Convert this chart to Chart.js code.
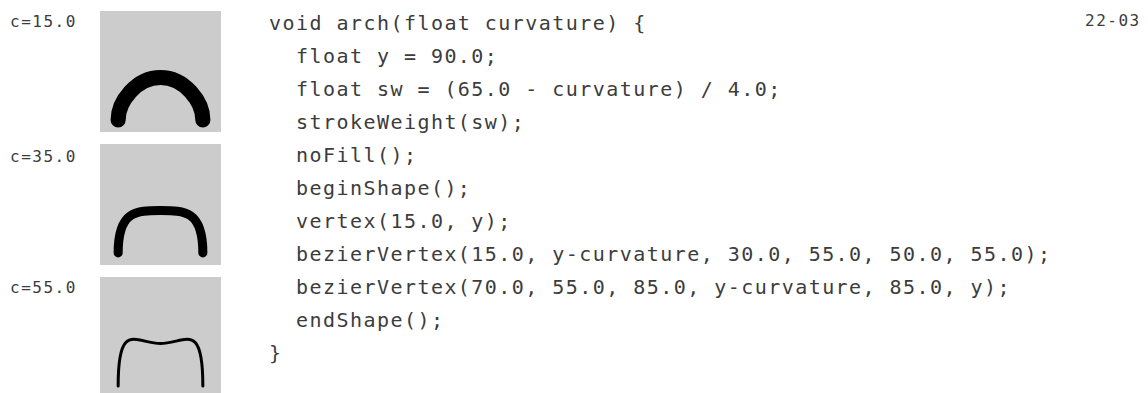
<!DOCTYPE html>
<html lang="en">
    <head>
        <meta charset="UTF-8" />
        <title>arch(curvature)</title>
        <script src="https://cdn.jsdelivr.net/npm/chart.js"></script>
        <style>
            html, body { margin: 0; padding: 0; background: #fff; overflow: hidden; }
            body { width: 1148px; height: 393px; position: relative; }
            canvas.arch { position: absolute; left: 100px; background: #cccccc; }
            .label, .page {
                position: absolute;
                font-family: "DejaVu Sans Mono", monospace;
                font-size: 16px;
                line-height: 16px;
                letter-spacing: 1.5px;
                color: #3c3c3c;
                white-space: pre;
            }
            .label { left: 10px; }
            .page { left: 1085px; top: 13px; }
            pre.code {
                position: absolute;
                left: 269px;
                top: 6.5px;
                margin: 0;
                font-family: "DejaVu Sans Mono", monospace;
                font-size: 20px;
                line-height: 33.1px;
                letter-spacing: 1.45px;
                color: #3c3c3c;
            }
        </style>
    </head>
    <body>
        <script>
            // Curvature of each sketch and its caption
            const curvatures = [15.0, 35.0, 55.0];
            const captions = ["c=15.0", "c=35.0", "c=55.0"];

            // Control points (sketch units, 100 x 100) read from the code:
            // vertex + two bezierVertex calls
            const arch15 = [[15, 90], [15, 75], [30, 55], [50, 55], [70, 55], [85, 75], [85, 90]];
            const arch35 = [[15, 90], [15, 55], [30, 55], [50, 55], [70, 55], [85, 55], [85, 90]];
            const arch55 = [[15, 90], [15, 35], [30, 55], [50, 55], [70, 55], [85, 35], [85, 90]];
            const archPoints = [arch15, arch35, arch55];

            // Stroke weights, (65 - c) / 4
            const strokeWeights = [12.5, 7.5, 2.5];

            const boxTops = [11, 144, 277];
            const captionTops = [13.5, 148.5, 279.5];

            const codeLines = [
                "void arch(float curvature) {",
                "  float y = 90.0;",
                "  float sw = (65.0 - curvature) / 4.0;",
                "  strokeWeight(sw);",
                "  noFill();",
                "  beginShape();",
                "  vertex(15.0, y);",
                "  bezierVertex(15.0, y-curvature, 30.0, 55.0, 50.0, 55.0);",
                "  bezierVertex(70.0, 55.0, 85.0, y-curvature, 85.0, y);",
                "  endShape();",
                "}",
            ];

            // draws the dataset points as a vertex + bezierVertex chain
            const bezierPlugin = {
                id: "bezierShape",
                afterDatasetsDraw(chart) {
                    const x = chart.scales.x;
                    const y = chart.scales.y;
                    const ds = chart.data.datasets[0];
                    const pts = ds.data.map((p) => [x.getPixelForValue(p.x), y.getPixelForValue(p.y)]);
                    const w = Math.abs(x.getPixelForValue(ds.weight) - x.getPixelForValue(0));
                    const ctx = chart.ctx;
                    ctx.save();
                    ctx.beginPath();
                    ctx.moveTo(pts[0][0], pts[0][1]);
                    for (let i = 1; i + 2 < pts.length; i += 3) {
                        ctx.bezierCurveTo(pts[i][0], pts[i][1], pts[i + 1][0], pts[i + 1][1], pts[i + 2][0], pts[i + 2][1]);
                    }
                    ctx.lineWidth = w;
                    ctx.lineCap = "round";
                    ctx.lineJoin = "round";
                    ctx.strokeStyle = "#000";
                    ctx.stroke();
                    ctx.restore();
                },
            };

            curvatures.forEach((c, i) => {
                const cap = document.createElement("div");
                cap.className = "label";
                cap.style.top = captionTops[i] + "px";
                cap.textContent = captions[i];
                document.body.appendChild(cap);

                const cv = document.createElement("canvas");
                cv.className = "arch";
                cv.width = 121;
                cv.height = 121;
                cv.style.top = boxTops[i] + "px";
                document.body.appendChild(cv);

                new Chart(cv.getContext("2d"), {
                    type: "scatter",
                    data: {
                        datasets: [
                            {
                                label: captions[i],
                                data: archPoints[i].map((p) => ({ x: p[0], y: p[1] })),
                                weight: strokeWeights[i],
                                pointRadius: 0,
                                showLine: false,
                            },
                        ],
                    },
                    options: {
                        responsive: false,
                        animation: false,
                        events: [],
                        layout: { padding: 0 },
                        scales: {
                            x: { type: "linear", min: 0, max: 100, display: false },
                            y: { type: "linear", min: 0, max: 100, reverse: true, display: false },
                        },
                        plugins: {
                            legend: { display: false },
                            tooltip: { enabled: false },
                        },
                    },
                    plugins: [bezierPlugin],
                });
            });

            const pre = document.createElement("pre");
            pre.className = "code";
            pre.textContent = codeLines.join("\n");
            document.body.appendChild(pre);

            const page = document.createElement("div");
            page.className = "page";
            page.textContent = "22-03";
            document.body.appendChild(page);
        </script>
    </body>
</html>
